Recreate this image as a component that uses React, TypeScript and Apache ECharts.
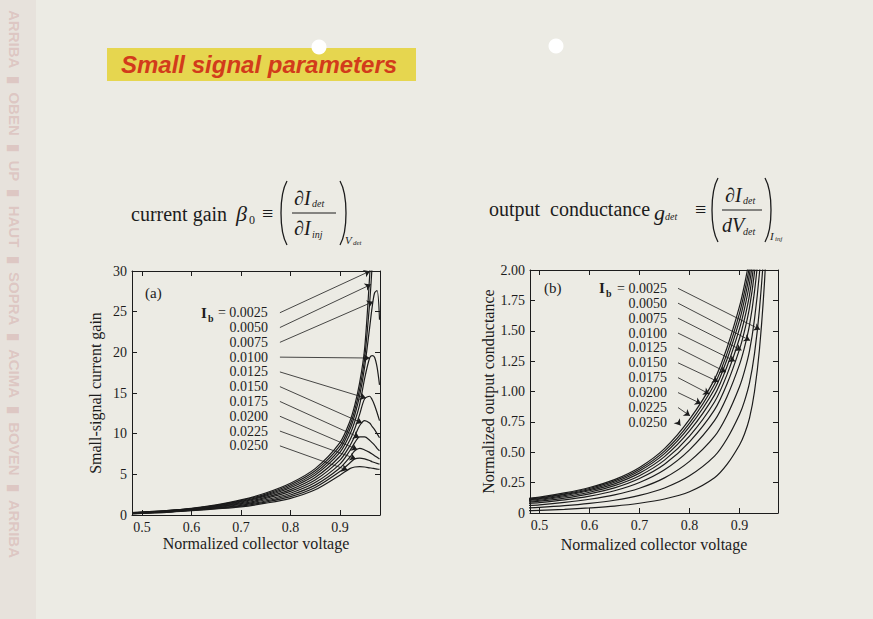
import React, { useEffect, useRef } from "react";
import * as echarts from "echarts";

// ---------- data ----------
const IB_LABELS = ["0.0025", "0.0050", "0.0075", "0.0100", "0.0125", "0.0150", "0.0175", "0.0200", "0.0225", "0.0250"];
const X_TICKS = [0.5, 0.6, 0.7, 0.8, 0.9];

// (a) small-signal current gain
const XA = [0.48, 0.5, 0.55, 0.6, 0.65, 0.7, 0.75, 0.8, 0.85, 0.9, 0.92, 0.93, 0.94, 0.95, 0.96, 0.965, 0.97, 0.975, 0.98];
const BETA_0025 = [0.3, 0.37, 0.55, 0.83, 1.25, 1.85, 2.7, 3.9, 5.7, 8.9, 11.5, 13.5, 16.3, 20.5, 29.3, 35, 41, 47, 53];
const BETA_0050 = [0.285, 0.353, 0.528, 0.8, 1.2, 1.765, 2.575, 3.715, 5.44, 8.5, 11.0, 12.9, 15.5, 19.3, 26.0, 30.5, 35, 39, 43];
const BETA_0075 = [0.27, 0.336, 0.506, 0.77, 1.15, 1.68, 2.45, 3.53, 5.18, 8.1, 10.5, 12.3, 14.7, 18.2, 23.0, 25.5, 27.3, 27.6, 24.0];
const BETA_0100 = [0.255, 0.319, 0.484, 0.74, 1.1, 1.595, 2.325, 3.345, 4.92, 7.7, 9.9, 11.5, 13.6, 16.8, 19.3, 19.6, 19.4, 18.2, 16.0];
const BETA_0125 = [0.237, 0.299, 0.458, 0.704, 1.04, 1.493, 2.175, 3.123, 4.61, 7.22, 9.2, 10.6, 12.4, 14.3, 14.6, 14.2, 13.5, 12.6, 11.6];
const BETA_0150 = [0.219, 0.278, 0.431, 0.668, 0.98, 1.39, 2.025, 2.9, 4.3, 6.74, 8.5, 9.7, 11.0, 11.6, 11.3, 10.9, 10.5, 10.0, 9.5];
const BETA_0175 = [0.201, 0.258, 0.405, 0.632, 0.92, 1.289, 1.875, 2.679, 3.984, 6.26, 7.9, 8.9, 9.6, 9.6, 9.2, 8.9, 8.6, 8.2, 7.9];
const BETA_0200 = [0.183, 0.237, 0.378, 0.596, 0.86, 1.187, 1.725, 2.457, 3.672, 5.78, 7.1, 7.9, 8.2, 8.0, 7.7, 7.5, 7.3, 7.1, 6.9];
const BETA_0225 = [0.167, 0.219, 0.354, 0.563, 0.805, 1.094, 1.588, 2.254, 3.386, 5.34, 6.4, 6.9, 7.0, 6.9, 6.7, 6.55, 6.45, 6.35, 6.25];
const BETA_0250 = [0.15, 0.2, 0.33, 0.53, 0.75, 1.0, 1.45, 2.05, 3.1, 4.9, 5.7, 5.9, 5.95, 5.9, 5.8, 5.75, 5.7, 5.65, 5.6];
const BETA = [BETA_0025, BETA_0050, BETA_0075, BETA_0100, BETA_0125, BETA_0150, BETA_0175, BETA_0200, BETA_0225, BETA_0250];
const A_ROW_Y = [24.87, 23.05, 21.23, 19.41, 17.59, 15.78, 13.96, 12.14, 10.32, 8.5];
const A_TIP_X = [0.9606, 0.9626, 0.967, 0.96, 0.9525, 0.945, 0.939, 0.935, 0.932, 0.9155];
const A_Y_TICKS_INTERVAL = 5;

// (b) normalized output conductance
const XB = [0.478, 0.5, 0.55, 0.6, 0.65, 0.7, 0.75, 0.8, 0.85, 0.875, 0.9, 0.91, 0.92, 0.93, 0.94, 0.95, 0.96];
const G_0025 = [0.02, 0.022, 0.03, 0.042, 0.057, 0.08, 0.115, 0.175, 0.29, 0.4, 0.56, 0.65, 0.78, 1.0, 1.35, 1.9, 2.7];
const G_0050 = [0.042, 0.046, 0.06, 0.079, 0.105, 0.145, 0.206, 0.306, 0.468, 0.611, 0.811, 0.921, 1.07, 1.312, 1.68, 2.23, 3.01];
const G_0075 = [0.062, 0.067, 0.087, 0.113, 0.149, 0.204, 0.289, 0.425, 0.63, 0.803, 1.039, 1.167, 1.334, 1.596, 1.98, 2.53, 3.29];
const G_0100 = [0.078, 0.085, 0.108, 0.139, 0.183, 0.251, 0.356, 0.52, 0.76, 0.957, 1.221, 1.363, 1.546, 1.824, 2.22, 2.77, 3.51];
const G_0125 = [0.089, 0.097, 0.123, 0.158, 0.207, 0.284, 0.401, 0.586, 0.849, 1.062, 1.347, 1.499, 1.691, 1.98, 2.385, 2.935, 3.666];
const G_0150 = [0.097, 0.105, 0.134, 0.171, 0.225, 0.307, 0.435, 0.633, 0.914, 1.139, 1.438, 1.597, 1.796, 2.093, 2.505, 3.055, 3.778];
const G_0175 = [0.104, 0.113, 0.143, 0.183, 0.24, 0.328, 0.464, 0.675, 0.97, 1.206, 1.518, 1.683, 1.889, 2.193, 2.61, 3.16, 3.876];
const G_0200 = [0.11, 0.119, 0.152, 0.193, 0.253, 0.346, 0.489, 0.711, 1.019, 1.264, 1.586, 1.757, 1.968, 2.278, 2.7, 3.25, 3.96];
const G_0225 = [0.115, 0.125, 0.158, 0.202, 0.264, 0.36, 0.509, 0.74, 1.06, 1.312, 1.643, 1.819, 2.034, 2.349, 2.775, 3.325, 4.03];
const G_0250 = [0.12, 0.13, 0.165, 0.21, 0.275, 0.375, 0.53, 0.77, 1.1, 1.36, 1.7, 1.88, 2.1, 2.42, 2.85, 3.4, 4.1];
const GOUT = [G_0025, G_0050, G_0075, G_0100, G_0125, G_0150, G_0175, G_0200, G_0225, G_0250];
const B_ROW_Y = [1.849, 1.727, 1.604, 1.481, 1.359, 1.236, 1.114, 0.991, 0.868, 0.746];
const B_TIP_X = [0.941, 0.921, 0.904, 0.891, 0.873, 0.8577, 0.8397, 0.823, 0.801, 0.782];
const B_TIP_Y = [1.51, 1.42, 1.34, 1.25, 1.16, 1.08, 0.98, 0.9, 0.8, 0.72];

// annotation anchors (data space)
const A_LABEL_RIGHT_X = 0.7545;
const A_ARROW_START_X = 0.7788;
const B_LABEL_RIGHT_X = 0.755;
const B_ARROW_START_X = 0.777;

const SERIF = '"Liberation Serif", "Times New Roman", serif';
const INK = "#1c1c1c";

function interp(xs: number[], ys: number[], x: number): number {
  for (let i = 0; i < xs.length - 1; i++) {
    if (x >= xs[i] && x <= xs[i + 1]) {
      const t = (x - xs[i]) / (xs[i + 1] - xs[i]);
      return ys[i] + t * (ys[i + 1] - ys[i]);
    }
  }
  return ys[ys.length - 1];
}

function makeSeries(
  xs: number[], curves: number[][], rowsY: number[], tipsX: number[], tipsY: number[] | null,
  labelX: number, startX: number, xAxisIndex: number, yAxisIndex: number
) {
  return curves.map((ys, k) => ({
    type: "line",
    xAxisIndex,
    yAxisIndex,
    data: xs.map((x, i) => [x, ys[i]]),
    showSymbol: false,
    smooth: 0.3,
    clip: true,
    silent: true,
    color: INK,
    lineStyle: { color: INK, width: 1.2 },
    markPoint: {
      symbol: "circle",
      symbolSize: 0,
      silent: true,
      data: [
        {
          coord: [labelX, rowsY[k]],
          label: {
            show: true,
            position: "left",
            distance: 0,
            formatter: (k === 0 ? "= " : "") + IB_LABELS[k],
            color: INK,
            fontFamily: SERIF,
            fontSize: 14,
            lineHeight: 12,
          },
        },
      ],
    },
    markLine: {
      silent: true,
      symbol: ["none", "arrow"],
      symbolSize: 6,
      label: { show: false },
      itemStyle: { color: INK },
      lineStyle: { color: INK, width: 0.8, type: "solid" },
      emphasis: { disabled: true },
      data: [
        [
          { coord: [startX, rowsY[k]], symbol: "none" },
          {
            coord: [tipsX[k], tipsY ? tipsY[k] : interp(xs, ys, tipsX[k])],
            symbol: "arrow", symbolSize: 6, itemStyle: { color: INK },
          },
        ],
      ],
    },
  }));
}

function xAxes(gridIndex: number, min: number, max: number, nameGap: number) {
  const line = { show: true, onZero: false, lineStyle: { color: INK, width: 1 } };
  const tick = { show: true, inside: true, length: 5, customValues: X_TICKS, lineStyle: { color: INK } };
  return [
    {
      type: "value", gridIndex, position: "bottom", min, max,
      name: "Normalized collector voltage", nameLocation: "middle", nameGap,
      nameTextStyle: { fontFamily: SERIF, fontSize: 16, color: INK },
      axisLine: line, axisTick: tick,
      axisLabel: { customValues: X_TICKS, formatter: (v: number) => v.toFixed(1), fontFamily: SERIF, fontSize: 14, color: INK, margin: 5 },
      splitLine: { show: false },
    },
    {
      type: "value", gridIndex, position: "top", min, max,
      axisLine: line, axisTick: tick, axisLabel: { show: false }, splitLine: { show: false },
    },
  ];
}

function yAxes(gridIndex: number, max: number, interval: number, name: string, nameGap: number, fmt: (v: number) => string) {
  const line = { show: true, onZero: false, lineStyle: { color: INK, width: 1 } };
  const tick = { show: true, inside: true, length: 5, lineStyle: { color: INK } };
  return [
    {
      type: "value", gridIndex, position: "left", min: 0, max, interval,
      name, nameLocation: "middle", nameGap,
      nameTextStyle: { fontFamily: SERIF, fontSize: 16, color: INK },
      axisLine: line, axisTick: tick,
      axisLabel: { formatter: fmt, fontFamily: SERIF, fontSize: 14, color: INK, margin: 5 },
      splitLine: { show: false },
    },
    {
      type: "value", gridIndex, position: "right", min: 0, max, interval,
      axisLine: line, axisTick: tick, axisLabel: { show: false }, splitLine: { show: false },
    },
  ];
}

function paren(x: number, y1: number, y2: number, dir: number) {
  const h = y2 - y1;
  return {
    type: "bezierCurve",
    shape: { x1: x, y1, x2: x, y2, cpx1: x - dir * 8, cpy1: y1 + h * 0.22, cpx2: x - dir * 8, cpy2: y1 + h * 0.78 },
    style: { stroke: INK, lineWidth: 1.3, fill: null },
  };
}

function txt(x: number, y: number, text: string, font: string, fill = INK) {
  return { type: "text", x, y, style: { text, font, fill, verticalAlign: "middle", textAlign: "left" } };
}

export default function App() {
  const ref = useRef<HTMLDivElement>(null);
  useEffect(() => {
    if (!ref.current) return;
    const chart = echarts.init(ref.current, null, { renderer: "svg" });
    const it = (s: number) => `italic ${s}px ${SERIF}`;
    const rm = (s: number) => `${s}px ${SERIF}`;
    const graphic: any[] = [
      { type: "rect", shape: { x: 0, y: 0, width: 36, height: 619 }, style: { fill: "#e7e2dc" }, z: -10 },
      {
        type: "text", x: 14, y: 10, rotation: -Math.PI / 2,
        style: {
          text: "ARRIBA  ▮  OBEN  ▮  UP  ▮  HAUT  ▮  SOPRA  ▮  ACIMA  ▮  BOVEN  ▮  ARRIBA",
          font: `bold 15px "Liberation Sans", sans-serif`, fill: "rgba(200,140,140,0.32)", verticalAlign: "middle",
        },
      },
      { type: "rect", shape: { x: 107, y: 48, width: 309, height: 33 }, style: { fill: "#e6d64f" } },
      txt(121, 64, "Small signal parameters", `italic bold 24px "Liberation Sans", Arial, sans-serif`, "#d23b1b"),
      { type: "circle", shape: { cx: 319, cy: 47, r: 7.5 }, style: { fill: "#ffffff" } },
      { type: "circle", shape: { cx: 556, cy: 46, r: 7.5 }, style: { fill: "#ffffff" } },
      // formula (a)
      txt(131, 214, "current gain", rm(20)),
      txt(236, 213, "β", it(22)),
      txt(249, 220, "0", rm(12)),
      txt(262, 213, "≡", rm(20)),
      paren(287, 181, 245, 1),
      txt(294, 198, "∂I", it(20)),
      txt(312, 203, "det", it(10)),
      { type: "line", shape: { x1: 292, y1: 213, x2: 336, y2: 213 }, style: { stroke: INK, lineWidth: 1 } },
      txt(294, 228, "∂I", it(20)),
      txt(312, 234, "inj", it(10)),
      paren(340, 181, 245, -1),
      txt(345, 240, "V", it(11)),
      txt(353, 243, "det", it(7)),
      // formula (b)
      txt(489, 209, "output  conductance", rm(20)),
      txt(654, 212, "g", it(22)),
      txt(665, 216, "det", it(10)),
      txt(695, 209, "≡", rm(20)),
      paren(718, 178, 242, 1),
      txt(725, 195, "∂I", it(20)),
      txt(743, 200, "det", it(10)),
      { type: "line", shape: { x1: 722, y1: 210, x2: 762, y2: 210 }, style: { stroke: INK, lineWidth: 1 } },
      txt(722, 225, "dV", it(20)),
      txt(743, 231, "det", it(10)),
      paren(765, 178, 242, -1),
      txt(770, 236, "I", it(11)),
      txt(775, 239, "inj", it(7)),
      // panel tags and I_b
      txt(145, 293, "(a)", rm(15)),
      txt(544, 288, "(b)", rm(15)),
      txt(201, 313, "I", `bold 15px ${SERIF}`),
      txt(208, 318, "b", `bold 10px ${SERIF}`),
      txt(599, 288, "I", `bold 15px ${SERIF}`),
      txt(606, 293, "b", `bold 10px ${SERIF}`),
    ];

    const option: any = {
      animation: false,
      backgroundColor: "#ecebe4",
      grid: [
        { left: 132, top: 271, width: 248, height: 244 },
        { left: 530, top: 270, width: 248, height: 243 },
      ],
      xAxis: [...xAxes(0, 0.48, 0.981, 20), ...xAxes(1, 0.481, 0.977, 23)],
      yAxis: [
        ...yAxes(0, 30, A_Y_TICKS_INTERVAL, "Small-signal current gain", 29, (v) => String(v)),
        ...yAxes(1, 2, 0.25, "Normalized output conductance", 32, (v) => (v === 0 ? "0" : v.toFixed(2))),
      ],
      series: [
        ...makeSeries(XA, BETA, A_ROW_Y, A_TIP_X, null, A_LABEL_RIGHT_X, A_ARROW_START_X, 0, 0),
        ...makeSeries(XB, GOUT, B_ROW_Y, B_TIP_X, B_TIP_Y, B_LABEL_RIGHT_X, B_ARROW_START_X, 2, 2),
      ],
      graphic,
    };
    chart.setOption(option);
    return () => chart.dispose();
  }, []);
  return <div ref={ref} style={{ position: "absolute", left: 0, top: 0, width: 873, height: 619 }} />;
}
